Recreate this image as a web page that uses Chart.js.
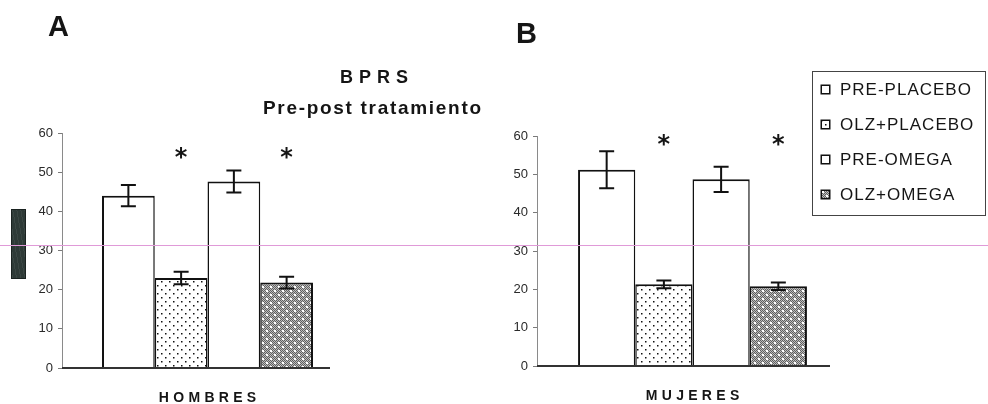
<!DOCTYPE html>
<html>
<head>
<meta charset="utf-8">
<script src="https://cdn.jsdelivr.net/npm/chart.js@4.4.1/dist/chart.umd.min.js"></script>
<style>
  html, body { margin: 0; padding: 0; background: #fff; }
  #page { position: relative; width: 988px; height: 404px; overflow: hidden;
          font-family: "Liberation Sans", Arial, sans-serif; color: #151515; }
  #cA, #cB { position: absolute; top: 0; }
  #cA { left: 0; }
  #cB { left: 480px; }
  .t { position: absolute; white-space: nowrap; line-height: 1; font-weight: bold; }
  #tA { left: 48px; top: 11.5px; font-size: 29px; }
  #tB { left: 516px; top: 18.5px; font-size: 29px; }
  #t1 { left: 0; width: 748px; text-align: center; top: 67.8px; font-size: 18px; letter-spacing: 6px; text-indent: 6px; }
  #t2 { left: 0; width: 744px; text-align: center; top: 97.9px; font-size: 19px; letter-spacing: 1.7px; text-indent: 1.7px; }
  #legend { position: absolute; left: 812px; top: 71px; width: 172px; height: 143px;
            border: 1px solid #444; background: #fff; z-index: 2; }
  .lg-row { display: flex; align-items: center; height: 35px; }
  .lg-sw { margin-left: 7px; margin-right: 9px; width: 11px; height: 11px; }
  .lg-txt { font-size: 17px; letter-spacing: 1px; line-height: 1; white-space: nowrap; }
  #scanline { position: absolute; left: 0; top: 245px; width: 988px; height: 1px;
              background: #e09ad8; z-index: 3; }
  #sidebox { position: absolute; left: 11px; top: 209px; width: 13px; height: 68px;
             border: 1px solid #1a2220; z-index: 1;
             background:
               repeating-linear-gradient(80deg, rgba(255,255,255,0.06) 0 1px, rgba(0,0,0,0) 1px 4px),
               #2e3a37; }
</style>
</head>
<body>
<div id="page">
  <canvas id="cA" width="480" height="404"></canvas>
  <canvas id="cB" width="508" height="404"></canvas>
  <div class="t" id="tA">A</div>
  <div class="t" id="tB">B</div>
  <div class="t" id="t1">BPRS</div>
  <div class="t" id="t2">Pre-post tratamiento</div>
  <div id="legend"></div>
  <div id="sidebox"></div>
  <div id="scanline"></div>
</div>
<script>
// Groups shown on the two panels
const groups = ['HOMBRES', 'MUJERES'];
// Treatment series (bar order inside each group)
const seriesNames = ['PRE-PLACEBO', 'OLZ+PLACEBO', 'PRE-OMEGA', 'OLZ+OMEGA'];
// BPRS mean scores and error (half-length of each error bar)
const hombresMean = [44.0, 23.0, 47.6, 21.8];
const hombresErr  = [2.7, 1.6, 2.8, 1.5];
const mujeresMean = [51.2, 21.3, 48.7, 20.8];
const mujeresErr  = [4.8, 1.0, 3.3, 1.0];
// Post-treatment bars marked as significant
const significant = [false, true, false, true];
// Y axis tick values
const yTickValues = [0, 10, 20, 30, 40, 50, 60];

const FONT = '"Liberation Sans", Arial, sans-serif';

// Tile for the dotted fill (white with black dots)
function dotTile() {
  const c = document.createElement('canvas');
  c.width = 8; c.height = 8;
  const g = c.getContext('2d');
  g.fillStyle = '#ffffff'; g.fillRect(0, 0, 8, 8);
  g.fillStyle = '#111111';
  g.fillRect(1, 1, 1.5, 1.5);
  g.fillRect(5, 5, 1.5, 1.5);
  return c;
}
// Tile for the grey stippled fill with white specks
function stippleTile() {
  const c = document.createElement('canvas');
  c.width = 8; c.height = 8;
  const g = c.getContext('2d');
  const img = g.createImageData(8, 8);
  for (let y = 0; y < 8; y++) {
    for (let x = 0; x < 8; x++) {
      const v = ((x + y) % 2 === 0) ? 95 : 190;
      const k = (y * 8 + x) * 4;
      img.data[k] = v; img.data[k + 1] = v; img.data[k + 2] = v; img.data[k + 3] = 255;
    }
  }
  g.putImageData(img, 0, 0);
  g.fillStyle = '#ffffff';
  g.fillRect(2, 2, 2, 2);
  g.fillRect(6, 6, 2, 2);
  return c;
}
const seriesTiles = [null, dotTile(), null, stippleTile()];

function fillFor(ctx, i) {
  return seriesTiles[i] ? ctx.createPattern(seriesTiles[i], 'repeat') : '#ffffff';
}

// Error bars with caps, drawn from each bar's value through the y scale
const errorBars = {
  id: 'errorBars',
  afterDatasetsDraw(chart, args, opts) {
    const { ctx } = chart;
    const ys = chart.scales.y;
    ctx.save();
    ctx.strokeStyle = '#111';
    ctx.lineWidth = 2;
    chart.data.datasets.forEach((ds, i) => {
      const bar = chart.getDatasetMeta(i).data[0];
      const v = ds.data[0], e = opts.errors[i];
      const yt = ys.getPixelForValue(v + e), yb = ys.getPixelForValue(v - e);
      const x = bar.x, hw = opts.cap / 2;
      ctx.beginPath();
      ctx.moveTo(x, yt); ctx.lineTo(x, yb);
      ctx.moveTo(x - hw, yt); ctx.lineTo(x + hw, yt);
      ctx.moveTo(x - hw, yb); ctx.lineTo(x + hw, yb);
      ctx.stroke();
    });
    ctx.restore();
  }
};

// Asterisks above significant bars
const stars = {
  id: 'stars',
  afterDatasetsDraw(chart, args, opts) {
    const { ctx } = chart;
    const ys = chart.scales.y;
    ctx.save();
    ctx.fillStyle = '#151515';
    ctx.font = 'bold ' + opts.size + 'px "DejaVu Sans", sans-serif';
    ctx.textAlign = 'center';
    ctx.textBaseline = 'alphabetic';
    const m = ctx.measureText('*');
    const mid = (m.actualBoundingBoxAscent - m.actualBoundingBoxDescent) / 2;
    chart.data.datasets.forEach((ds, i) => {
      if (!opts.flags[i]) return;
      const bar = chart.getDatasetMeta(i).data[0];
      ctx.fillText('*', bar.x, ys.getPixelForValue(opts.level) + mid);
    });
    ctx.restore();
  }
};

// Baseline axis and the spaced group label under the bars
const baseAxis = {
  id: 'baseAxis',
  afterDatasetsDraw(chart, args, opts) {
    const { ctx, chartArea } = chart;
    ctx.save();
    ctx.strokeStyle = '#333';
    ctx.lineWidth = 1.8;
    ctx.beginPath();
    ctx.moveTo(chartArea.left, chartArea.bottom);
    ctx.lineTo(chartArea.right - opts.trim, chartArea.bottom);
    ctx.stroke();
    ctx.restore();
  },
  afterDraw(chart, args, opts) {
    const { ctx, chartArea } = chart;
    const xs = chart.scales.x;
    ctx.save();
    ctx.font = 'bold 14px ' + FONT;
    ctx.fillStyle = '#151515';
    ctx.textAlign = 'center';
    ctx.textBaseline = 'alphabetic';
    if ('letterSpacing' in ctx) ctx.letterSpacing = opts.spacing + 'px';
    ctx.fillText(chart.data.labels[0], xs.getPixelForValue(0) + opts.spacing / 2, chartArea.bottom + 34);
    ctx.restore();
  }
};

function makeChart(id, groupIdx, means, errs, cfg) {
  const ctx = document.getElementById(id).getContext('2d');
  return new Chart(ctx, {
    type: 'bar',
    data: {
      labels: [groups[groupIdx]],
      datasets: seriesNames.map((name, i) => ({
        label: name,
        data: [means[i]],
        backgroundColor: fillFor(ctx, i),
        borderColor: '#111',
        borderWidth: { top: 2, left: i === 0 ? 2 : 1.5, right: i === 3 ? 2 : 1.5, bottom: 0 },
        categoryPercentage: cfg.catPct,
        barPercentage: 1
      }))
    },
    options: {
      responsive: false,
      animation: false,
      events: [],
      layout: { padding: { top: cfg.top, right: cfg.right, bottom: cfg.bottom, left: 0 } },
      scales: {
        x: { display: false },
        y: {
          min: 0, max: 60,
          afterBuildTicks: s => { s.ticks = yTickValues.map(v => ({ value: v })); },
          afterFit: s => { s.width = cfg.axisW; },
          grid: { drawOnChartArea: false, drawTicks: true, tickLength: 4, color: '#7a7a7a' },
          border: { display: true, color: '#8a8a8a', width: 1 },
          ticks: { color: '#2a2a2a', padding: 5, font: { family: FONT, size: 13 } }
        }
      },
      plugins: {
        legend: { display: false },
        tooltip: { enabled: false },
        errorBars: { errors: errs, cap: 15 },
        stars: { flags: significant, level: cfg.starLevel, size: 24 },
        baseAxis: { trim: cfg.trim, spacing: 4.3 }
      }
    },
    plugins: [errorBars, stars, baseAxis]
  });
}

const chartA = makeChart('cA', 0, hombresMean, hombresErr,
  { top: 133, bottom: 36, right: 127, axisW: 62, catPct: 0.725, trim: 23, starLevel: 54.9 });
const chartB = makeChart('cB', 1, mujeresMean, mujeresErr,
  { top: 136, bottom: 38, right: 140, axisW: 57, catPct: 0.736, trim: 18, starLevel: 58.9 });

// Legend built from the datasets of the second panel
(function buildLegend(chart) {
  const box = document.getElementById('legend');
  chart.data.datasets.forEach((ds, i) => {
    const row = document.createElement('div');
    row.className = 'lg-row';
    const sw = document.createElement('canvas');
    sw.width = 11; sw.height = 11; sw.className = 'lg-sw';
    const g = sw.getContext('2d');
    g.fillStyle = fillFor(g, i);
    g.fillRect(1, 1, 9, 9);
    g.strokeStyle = '#111'; g.lineWidth = 1.5;
    g.strokeRect(1.25, 1.25, 8.5, 8.5);
    const tx = document.createElement('span');
    tx.className = 'lg-txt';
    tx.textContent = ds.label;
    row.appendChild(sw); row.appendChild(tx);
    box.appendChild(row);
  });
})(chartB);
</script>
</body>
</html>
